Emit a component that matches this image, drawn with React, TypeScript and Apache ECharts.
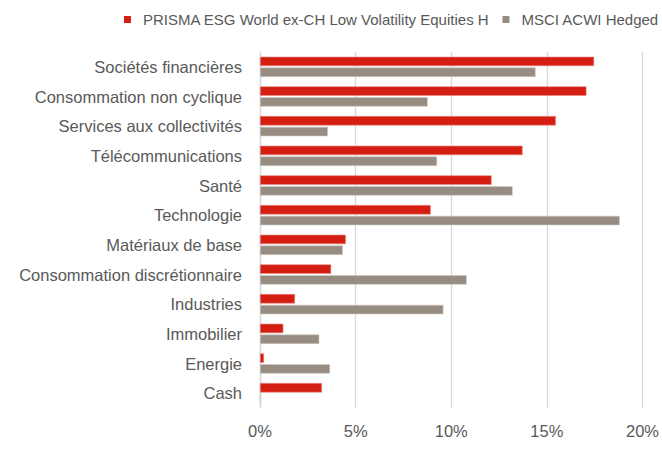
import React, { useEffect, useRef } from "react";
import * as echarts from "echarts";

const categories = [
  "Sociétés financières",
  "Consommation non cyclique",
  "Services aux collectivités",
  "Télécommunications",
  "Santé",
  "Technologie",
  "Matériaux de base",
  "Consommation discrétionnaire",
  "Industries",
  "Immobilier",
  "Energie",
  "Cash",
];

const prismaValues = [17.47, 17.07, 15.47, 13.73, 12.11, 8.93, 4.49, 3.72, 1.83, 1.22, 0.21, 3.24];
const msciValues = [14.41, 8.77, 3.55, 9.26, 13.21, 18.81, 4.33, 10.81, 9.59, 3.1, 3.66, 0];

const seriesNames = ["PRISMA ESG World ex-CH Low Volatility Equities H", "MSCI ACWI Hedged"];
const xTicks = { min: 0, max: 20, interval: 5 };

export default function App() {
  const ref = useRef<HTMLDivElement>(null);
  useEffect(() => {
    if (!ref.current) return;
    const chart = echarts.init(ref.current, undefined, { renderer: "svg" });
    const font = "'Liberation Sans', Arial, sans-serif";
    chart.setOption({
      animation: false,
      textStyle: { fontFamily: font },
      legend: {
        right: 3,
        top: 12,
        padding: 0,
        itemWidth: 7,
        itemHeight: 7,
        itemGap: 13,
        icon: "rect",
        itemStyle: { borderWidth: 0 },
        textStyle: { fontSize: 15, color: "#595959", fontFamily: font, padding: [0, 0, 0, 7] },
        data: seriesNames,
      },
      grid: { left: 260, right: 19, top: 52, bottom: 42, containLabel: false },
      xAxis: {
        type: "value",
        min: xTicks.min,
        max: xTicks.max,
        interval: xTicks.interval,
        axisLine: { show: false },
        axisTick: { show: false },
        splitLine: { show: true, lineStyle: { color: "#d9d9d9", width: 1.3 } },
        axisLabel: {
          formatter: "{value}%",
          fontSize: 16.5,
          color: "#595959",
          margin: 14,
          fontFamily: font,
        },
      },
      yAxis: {
        type: "category",
        inverse: true,
        data: categories,
        axisLine: { show: true, lineStyle: { color: "#d9d9d9", width: 1.3 } },
        axisTick: { show: false },
        axisLabel: { fontSize: 16.5, color: "#595959", margin: 18, fontFamily: font },
      },
      series: [
        {
          name: seriesNames[0],
          type: "bar",
          data: prismaValues,
          barWidth: 9.4,
          barGap: "15%",
          itemStyle: { color: "#d41e12", borderColor: "#e88a83", borderWidth: 0.6 },
        },
        {
          name: seriesNames[1],
          type: "bar",
          data: msciValues,
          barWidth: 9.4,
          barGap: "15%",
          itemStyle: { color: "#978c81", borderColor: "#cfc9c3", borderWidth: 0.6 },
        },
      ],
    });
    return () => chart.dispose();
  }, []);
  return (
    <div
      ref={ref}
      style={{ position: "absolute", left: 0, top: 0, width: 662, height: 450 }}
    />
  );
}
